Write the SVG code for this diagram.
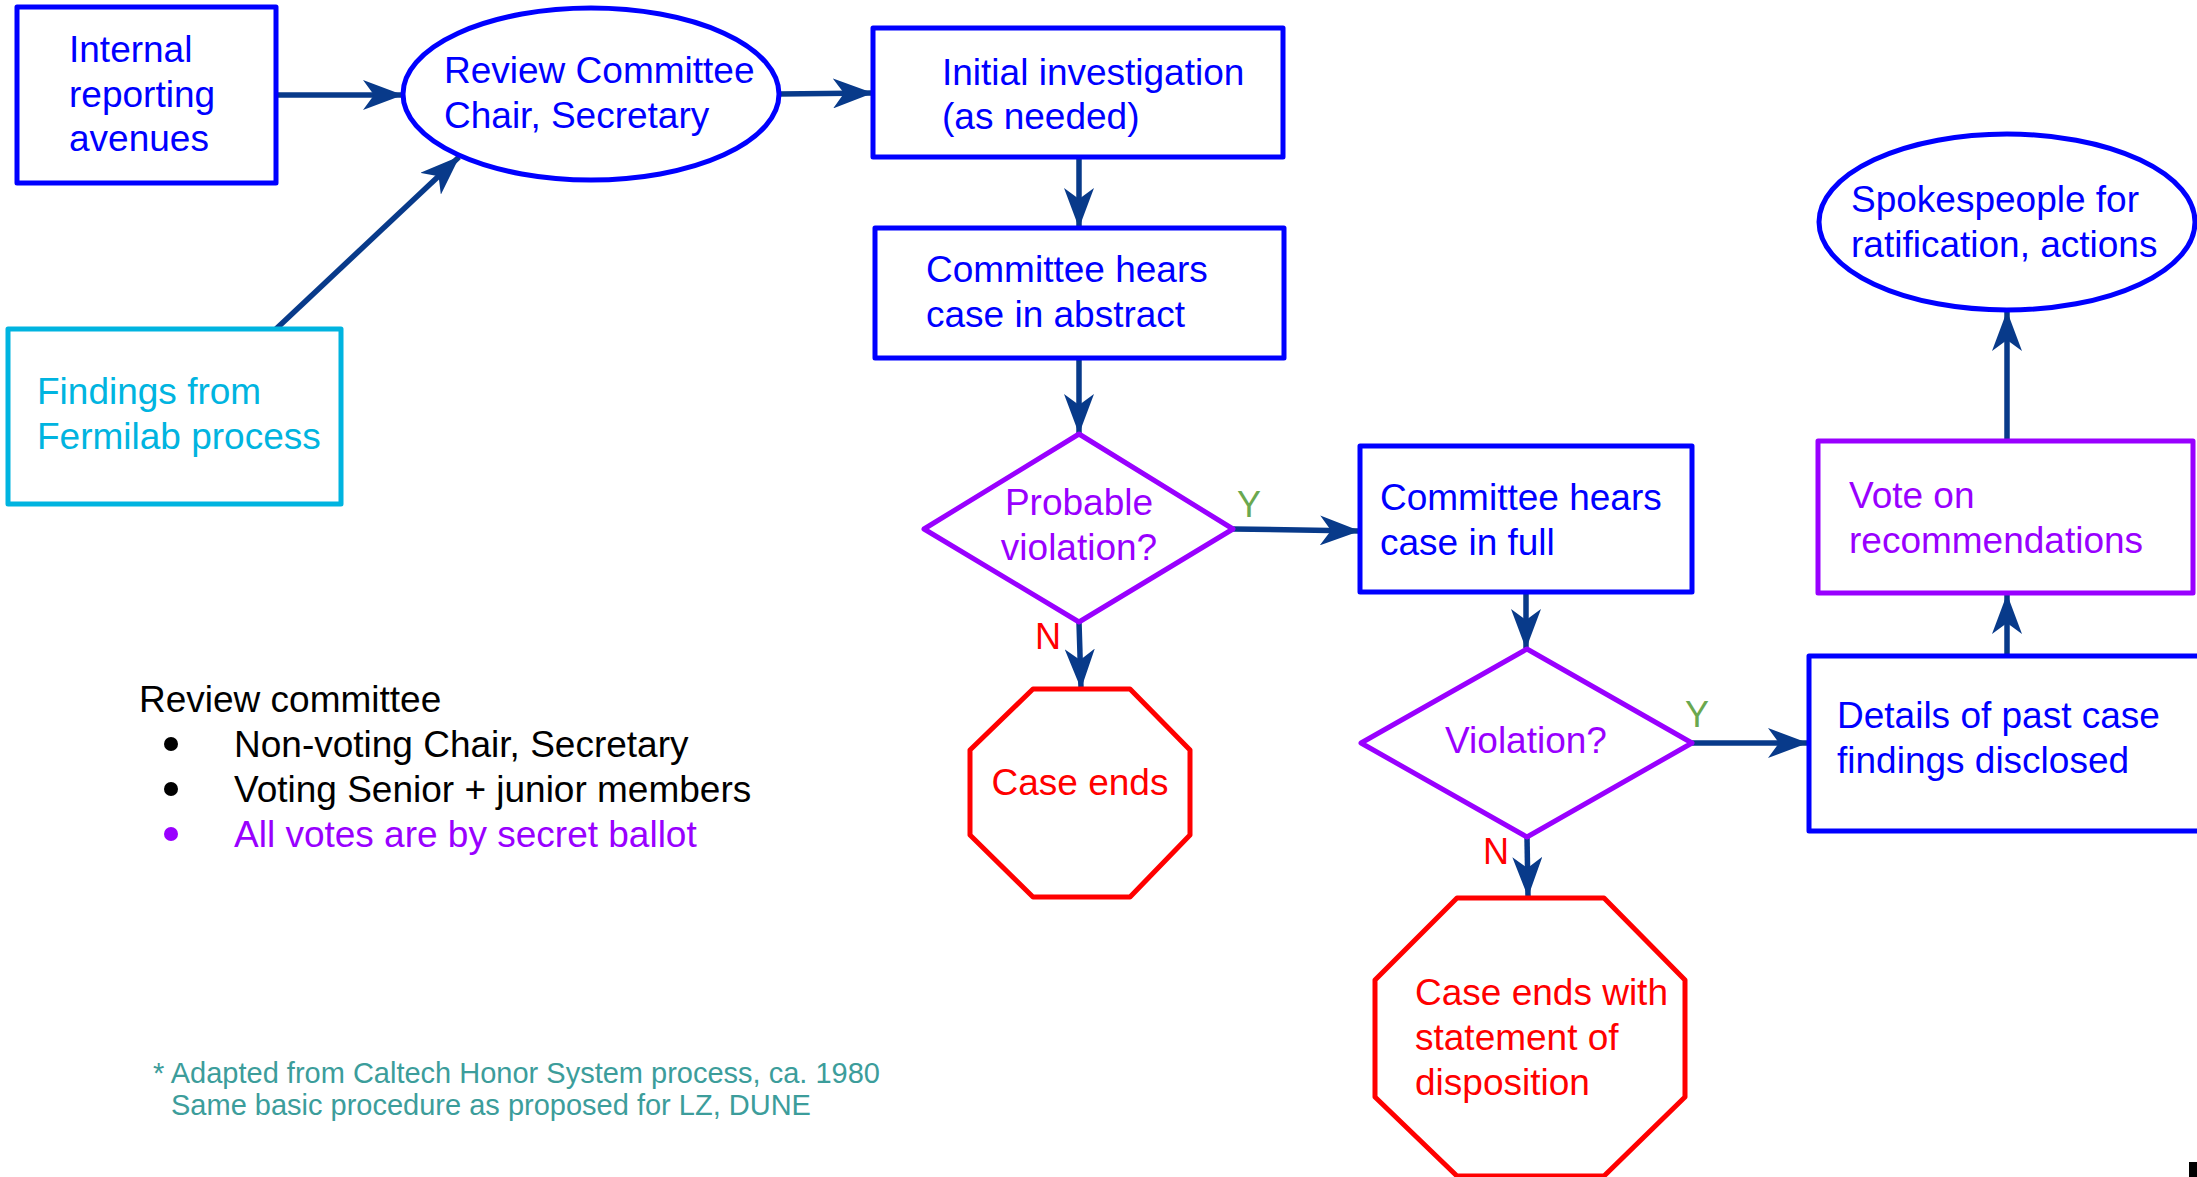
<svg xmlns="http://www.w3.org/2000/svg" width="2197" height="1177" viewBox="0 0 2197 1177">
<style>
text{font-family:"Liberation Sans",Arial,sans-serif;font-size:37px}
.b{fill:none;stroke:#0000ff;stroke-width:5;stroke-linejoin:round}
.p{fill:none;stroke:#9900ff;stroke-width:5;stroke-linejoin:round}
.r{fill:none;stroke:#ff0000;stroke-width:5;stroke-linejoin:round}
.c{fill:none;stroke:#00b4e0;stroke-width:5;stroke-linejoin:round}
.tb{fill:#0000ff}.tp{fill:#9900ff}.tr{fill:#ff0000}.tc{fill:#00b4e0}
.tk{fill:#000000}.tg{fill:#6aa84f;font-size:36px}.tn{fill:#ff0000;font-size:36px}
.ft{fill:#3c9d9b;font-size:29px}
.e{fill:none;stroke:#083a8a;stroke-width:5.5;marker-end:url(#ah)}
</style>
<defs>
<marker id="ah" viewBox="0 0 40 30" refX="39" refY="15" markerWidth="40" markerHeight="30" markerUnits="userSpaceOnUse" orient="auto">
<path d="M0,0 L40,15 L0,30 L11,15 Z" fill="#083a8a"/>
</marker>
</defs>
<rect width="2197" height="1177" fill="#ffffff"/>
<g id="connectors">
<line class="e" x1="276" y1="95" x2="402" y2="95"/>
<line class="e" x1="779" y1="94" x2="872" y2="93"/>
<line class="e" x1="276" y1="329" x2="459" y2="157"/>
<line class="e" x1="1079" y1="157" x2="1079" y2="227"/>
<line class="e" x1="1079" y1="358" x2="1079" y2="433"/>
<line class="e" x1="1233" y1="529" x2="1359" y2="531"/>
<line class="e" x1="1079" y1="622" x2="1081" y2="688"/>
<line class="e" x1="1526" y1="592" x2="1526" y2="648"/>
<line class="e" x1="1692" y1="743" x2="1807" y2="743"/>
<line class="e" x1="1527" y1="837" x2="1528" y2="896"/>
<line class="e" x1="2007" y1="656" x2="2007" y2="595"/>
<line class="e" x1="2007" y1="441" x2="2007" y2="312"/>
</g>
<g id="internal">
<rect class="b" x="17" y="7" width="259" height="176"/>
<text class="tb" x="69" y="62">Internal</text>
<text class="tb" x="69" y="107">reporting</text>
<text class="tb" x="69" y="151">avenues</text>
</g>
<g id="chair">
<ellipse class="b" cx="591" cy="94" rx="188" ry="86"/>
<text class="tb" x="444" y="83">Review Committee</text>
<text class="tb" x="444" y="128">Chair, Secretary</text>
</g>
<g id="initial">
<rect class="b" x="873" y="28" width="410" height="129"/>
<text class="tb" x="942" y="85">Initial investigation</text>
<text class="tb" x="942" y="129">(as needed)</text>
</g>
<g id="abstract">
<rect class="b" x="875" y="228" width="409" height="130"/>
<text class="tb" x="926" y="282">Committee hears</text>
<text class="tb" x="926" y="327">case in abstract</text>
</g>
<g id="probable">
<polygon class="p" points="1079,434 1233,529 1079,622 924,529"/>
<text class="tp" x="1079" y="515" text-anchor="middle">Probable</text>
<text class="tp" x="1079" y="560" text-anchor="middle">violation?</text>
</g>
<g id="ends1">
<polygon class="r" points="1033,689 1130,689 1190,750 1190,835 1130,897 1033,897 970,835 970,750"/>
<text class="tr" x="1080" y="795" text-anchor="middle">Case ends</text>
</g>
<g id="full">
<rect class="b" x="1360" y="446" width="332" height="146"/>
<text class="tb" x="1380" y="510">Committee hears</text>
<text class="tb" x="1380" y="555">case in full</text>
</g>
<g id="violation">
<polygon class="p" points="1527,649 1692,743 1527,837 1361,743"/>
<text class="tp" x="1526" y="753" text-anchor="middle">Violation?</text>
</g>
<g id="ends2">
<polygon class="r" points="1457,898 1604,898 1685,980 1685,1097 1604,1176 1457,1176 1375,1097 1375,980"/>
<text class="tr" x="1415" y="1005">Case ends with</text>
<text class="tr" x="1415" y="1050">statement of</text>
<text class="tr" x="1415" y="1095">disposition</text>
</g>
<g id="details">
<rect class="b" x="1809" y="656" width="420" height="175"/>
<text class="tb" x="1837" y="728">Details of past case</text>
<text class="tb" x="1837" y="773">findings disclosed</text>
</g>
<g id="vote">
<rect class="p" x="1818" y="441" width="375" height="152"/>
<text class="tp" x="1849" y="508">Vote on</text>
<text class="tp" x="1849" y="553">recommendations</text>
</g>
<g id="spokes">
<ellipse class="b" cx="2007" cy="222" rx="188" ry="88"/>
<text class="tb" x="1851" y="212">Spokespeople for</text>
<text class="tb" x="1851" y="257">ratification, actions</text>
</g>
<g id="findings">
<rect class="c" x="8" y="329" width="333" height="175"/>
<text class="tc" x="37" y="404">Findings from</text>
<text class="tc" x="37" y="449">Fermilab process</text>
</g>
<g id="labels">
<text class="tg" x="1237" y="517">Y</text>
<text class="tn" x="1035" y="649">N</text>
<text class="tg" x="1685" y="727">Y</text>
<text class="tn" x="1483" y="864">N</text>
</g>
<g id="legend">
<text class="tk" x="139" y="712">Review committee</text>
<circle cx="171" cy="744" r="7" fill="#000000"/>
<circle cx="171" cy="789" r="7" fill="#000000"/>
<circle cx="171" cy="834" r="7" fill="#9900ff"/>
<text class="tk" x="234" y="757">Non-voting Chair, Secretary</text>
<text class="tk" x="234" y="802">Voting Senior + junior members</text>
<text class="tp" x="234" y="847">All votes are by secret ballot</text>
</g>
<g id="footnote">
<text class="ft" x="153" y="1083">* Adapted from Caltech Honor System process, ca. 1980</text>
<text class="ft" x="171" y="1115">Same basic procedure as proposed for LZ, DUNE</text>
</g>
<rect x="2189" y="1162" width="8" height="15" fill="#000000"/>
</svg>
